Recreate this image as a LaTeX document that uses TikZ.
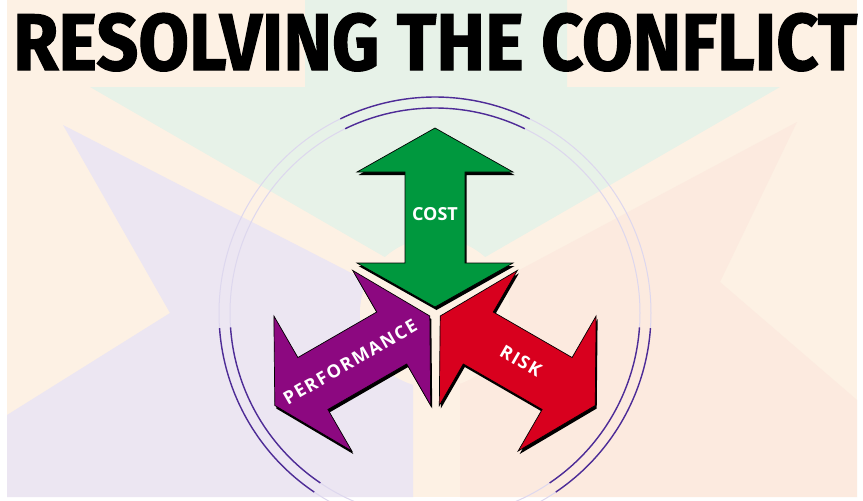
\documentclass[tikz,border=0pt]{standalone}
\usepackage{fontspec}
\usepackage{graphicx}
\newfontfamily\titlefont{Fira Sans}[BoldFeatures={FakeBold=1.5}]
\newfontfamily\labelfont{Open Sans}
\newfontfamily\spacedfont{Open Sans}[LetterSpace=9]
\definecolor{cream}{RGB}{253,241,228}
\definecolor{mint}{RGB}{231,242,232}
\definecolor{lavender}{RGB}{236,230,242}
\definecolor{peach}{RGB}{252,234,223}
\definecolor{costgreen}{RGB}{0,152,62}
\definecolor{perfpurple}{RGB}{140,8,128}
\definecolor{riskred}{RGB}{216,0,30}
\definecolor{ringpale}{RGB}{221,215,238}
\definecolor{ringdark}{RGB}{78,44,150}
% one double arrow, inner tip near the centre, pointing up
\newcommand{\arrowpath}{(0,-6) -- (78,-50) -- (30,-50) -- (30,-141) -- (78,-141) -- (0,-185)
  -- (-78,-141) -- (-30,-141) -- (-30,-50) -- (-78,-50) -- cycle}
\begin{document}
\begin{tikzpicture}[x=1pt,y=-1pt,
    shadow/.style={fill=black, shift={(1.5,3)}},
    body/.style={draw=black, line width=0.7pt, line join=miter},
    label/.style={text=white, font=\labelfont\bfseries\fontsize{18}{18}\selectfont, inner sep=0pt},
    spaced/.style={text=white, font=\spacedfont\bfseries\fontsize{18}{18}\selectfont, inner sep=0pt},
    ring/.style={ringpale, line width=1pt},
    arcline/.style={ringdark, line width=1.4pt}]
\useasboundingbox (0,0) rectangle (863,501);

% background
\fill[white] (0,0) rectangle (863,501);
\fill[cream] (7,0) rectangle (857,497);
\fill[mint] (305,0) -- (567,0) -- (567,87) -- (780,87) -- (435,286) -- (90,87) -- (305,87) -- cycle;
\fill[lavender] (63,125) -- (365,280) -- (435,313) -- (413,330) -- (413,497) -- (7,497) -- (7,415) -- (170,313) -- cycle;
\fill[peach] (797,122) -- (720,282) -- (857,400) -- (857,497) -- (460,497) -- (460,330) -- (435,313) -- (510,275) -- cycle;
\coordinate (C) at (435,313);
\fill[cream] (C) circle[radius=75];

% title
\node[anchor=base west, inner sep=0pt] (title) at (13,70)
  {\resizebox{844pt}{57pt}{\titlefont\bfseries RESOLVING THE CONFLICT}};

% rings
\draw[ring] (C) circle[radius=205];
\draw[ring] (C) circle[radius=216];
\foreach \a in {90,210,330} {
  \draw[arcline] plot[domain=\a-26:\a+26, samples=40] ({435+216*cos(\x)}, {313-216*sin(\x)});
  \draw[arcline] plot[domain=\a-26:\a+26, samples=40] ({435+205*cos(\x)}, {313-205*sin(\x)});
}

% arrows
\begin{scope}[shift={(C)}]
  \fill[shadow] \arrowpath;
  \filldraw[body, fill=costgreen] \arrowpath;
  \fill[shadow, rotate=120] \arrowpath;
  \filldraw[body, fill=perfpurple, rotate=120] \arrowpath;
  \fill[shadow, rotate=-120] \arrowpath;
  \filldraw[body, fill=riskred, rotate=-120] \arrowpath;
\end{scope}

% labels
\node[label] (cost) at (435,214) {COST};
\node[spaced, rotate=30] (perf) at (350,362) {PERFORMANCE};
\node[spaced, rotate=-30] (risk) at (521,361) {RISK};
\end{tikzpicture}
\end{document}
